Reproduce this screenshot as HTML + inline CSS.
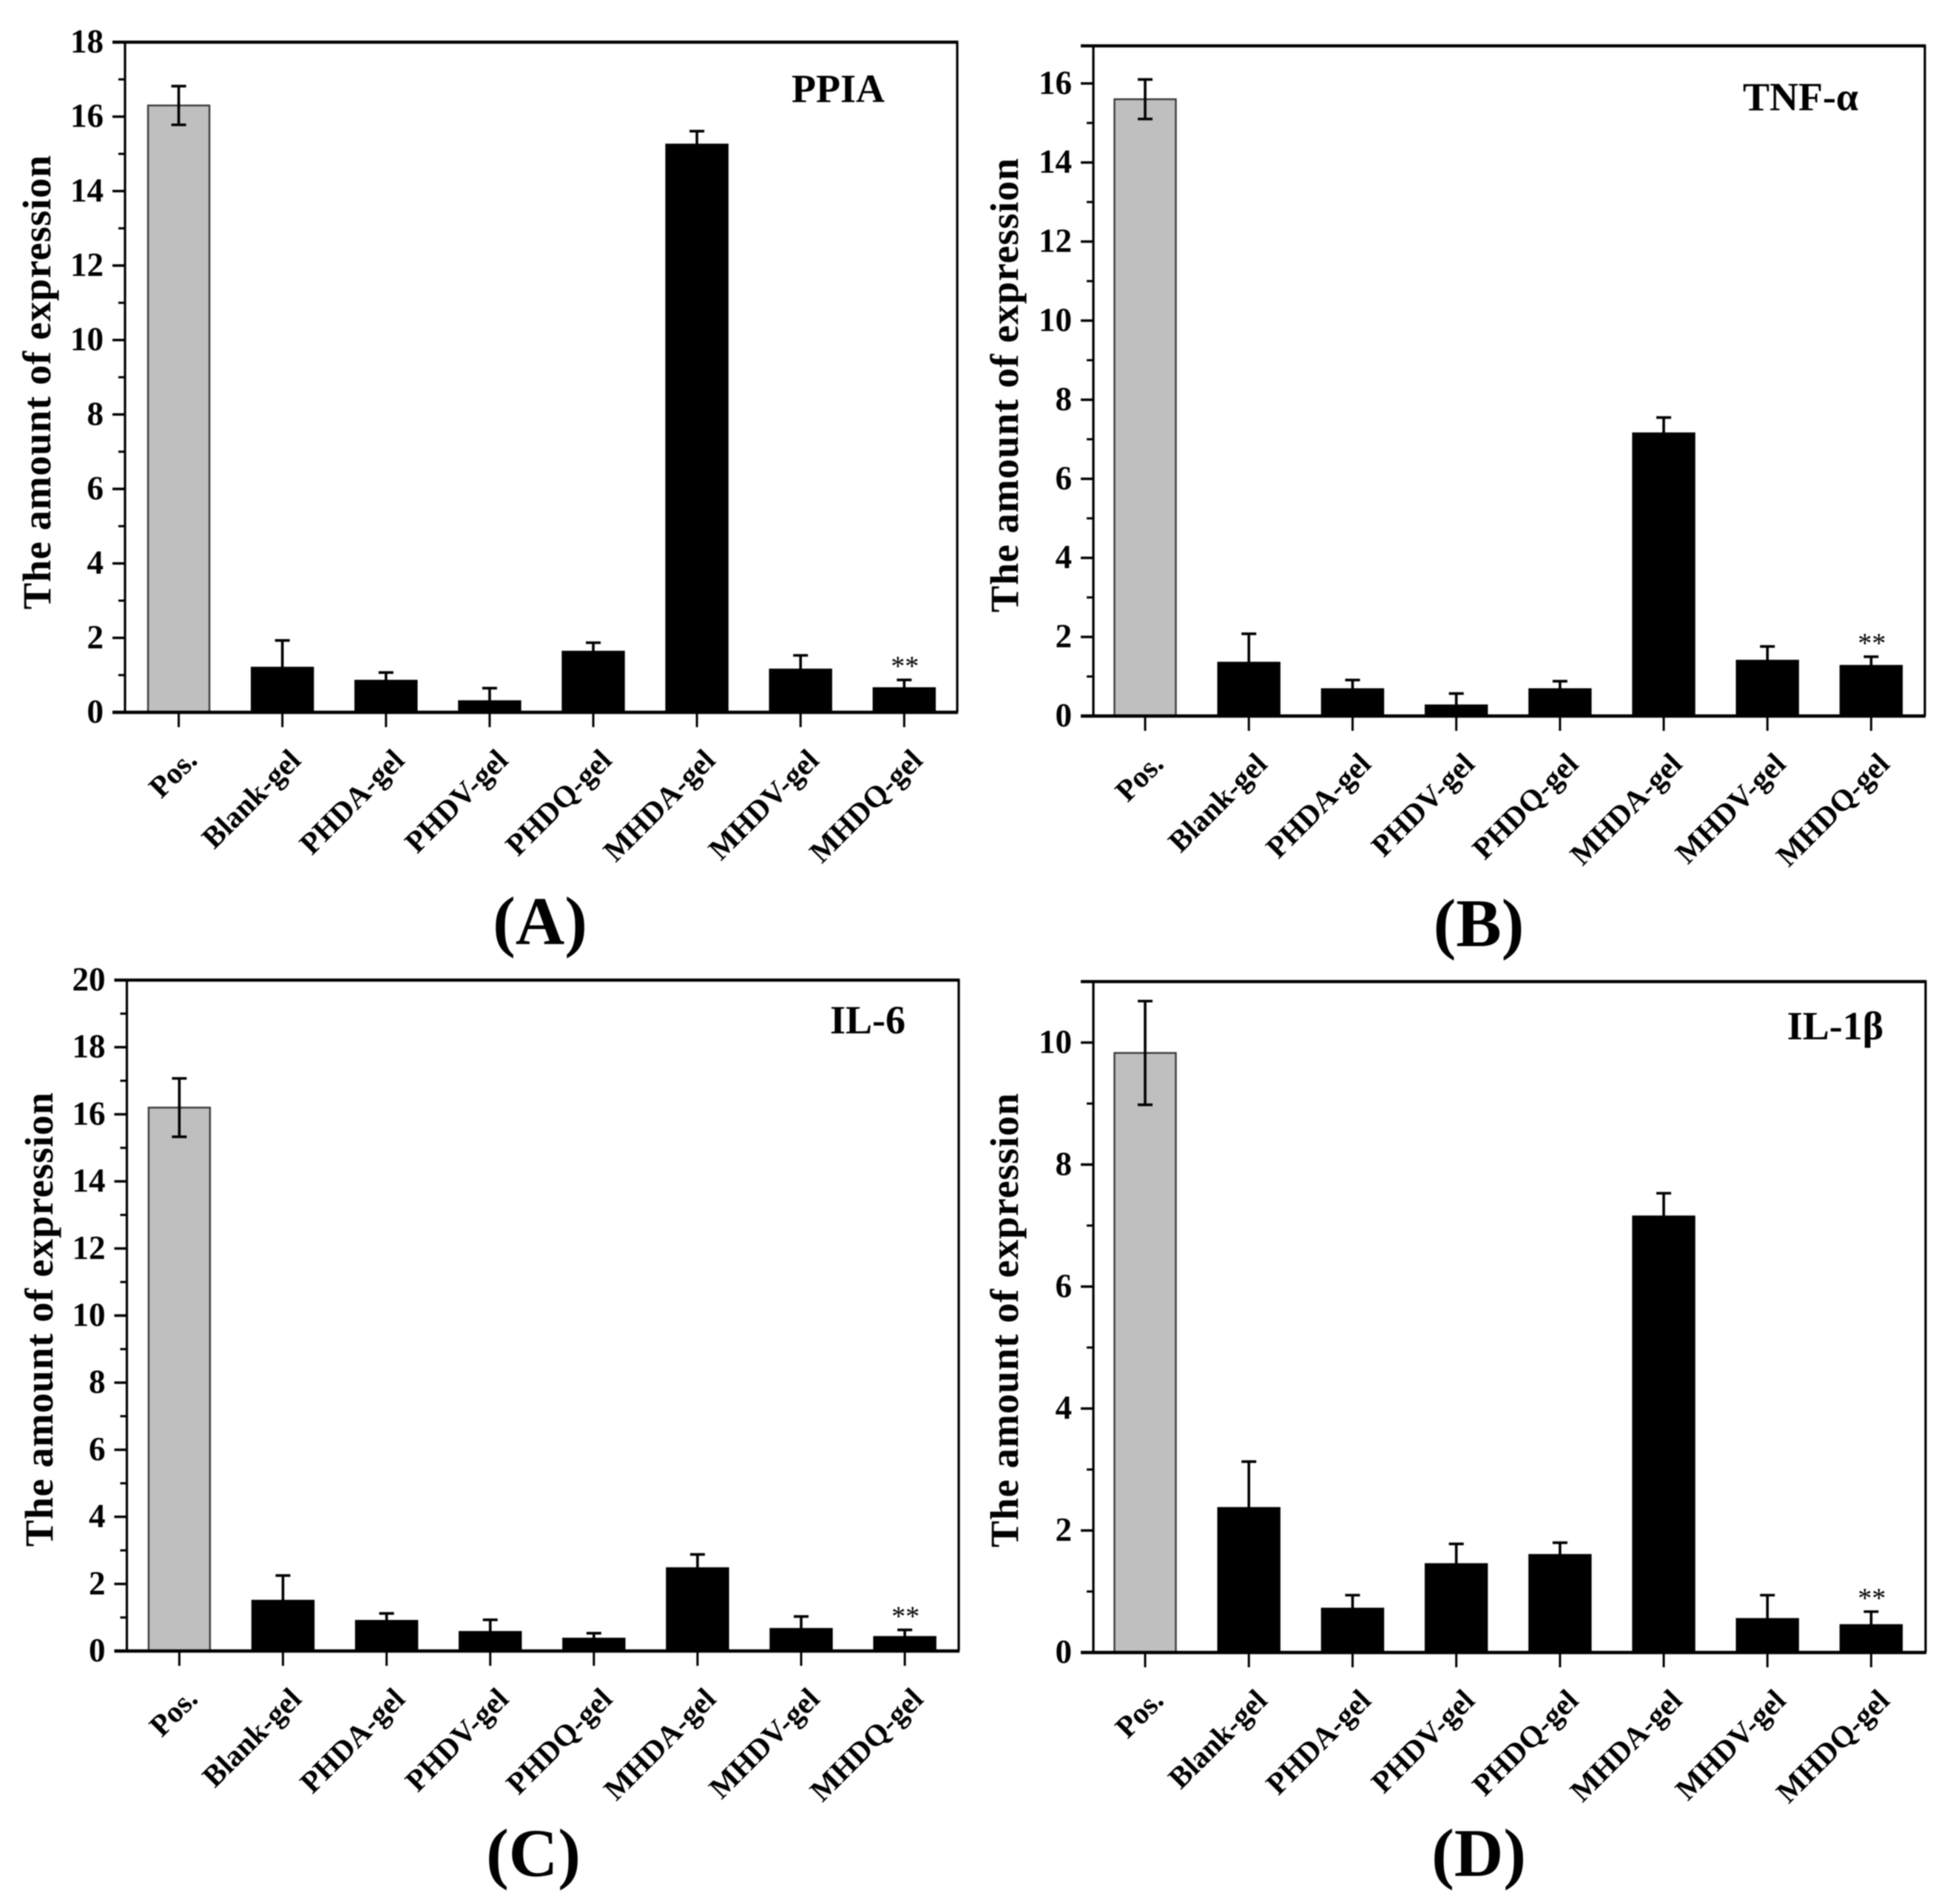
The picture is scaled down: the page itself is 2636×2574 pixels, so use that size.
<!DOCTYPE html>
<html lang="en">
<head>
<meta charset="utf-8">
<title>Expression bar charts</title>
<style>
html,body{margin:0;padding:0;background:#fff;width:2636px;height:2574px;overflow:hidden}
svg{display:block;filter:blur(0.9px)}
text{font-family:"Liberation Serif","DejaVu Serif",serif;fill:#000}
</style>
</head>
<body>
<svg id="figure" xmlns="http://www.w3.org/2000/svg" width="2636" height="2574" viewBox="0 0 2636 2574"></svg>
<script>
const categories = ["Pos.", "Blank-gel", "PHDA-gel", "PHDV-gel", "PHDQ-gel", "MHDA-gel", "MHDV-gel", "MHDQ-gel"];

const ppiaValues = [16.3, 1.2, 0.85, 0.3, 1.63, 15.25, 1.15, 0.65];
const ppiaErrors = [0.52, 0.73, 0.22, 0.35, 0.24, 0.36, 0.38, 0.22];
const ppiaTicks = [0, 2, 4, 6, 8, 10, 12, 14, 16, 18];

const tnfValues = [15.6, 1.35, 0.68, 0.27, 0.68, 7.15, 1.4, 1.27];
const tnfErrors = [0.5, 0.73, 0.23, 0.3, 0.2, 0.4, 0.36, 0.23];
const tnfTicks = [0, 2, 4, 6, 8, 10, 12, 14, 16];

const il6Values = [16.2, 1.5, 0.9, 0.57, 0.37, 2.47, 0.66, 0.42];
const il6Errors = [0.87, 0.75, 0.22, 0.36, 0.16, 0.41, 0.37, 0.21];
const il6Ticks = [0, 2, 4, 6, 8, 10, 12, 14, 16, 18, 20];

const il1bValues = [9.83, 2.37, 0.72, 1.45, 1.6, 7.15, 0.55, 0.45];
const il1bErrors = [0.85, 0.76, 0.22, 0.33, 0.2, 0.38, 0.39, 0.22];
const il1bTicks = [0, 2, 4, 6, 8, 10];

const panels = [
  {id:"ppia", gene:"PPIA", letter:"(A)", values:ppiaValues, errors:ppiaErrors, ticks:ppiaTicks, yMax:18,
   left:169, right:1294, top:57, bottom:963, first:241.6, step:140.1,
   titleX:68, titleY:517, geneX:1133, geneY:138, letterX:730, letterY:1276},
  {id:"tnf", gene:"TNF-α", letter:"(B)", values:tnfValues, errors:tnfErrors, ticks:tnfTicks, yMax:16.95,
   left:1478, right:2602, top:62, bottom:968, first:1548, step:140.2,
   titleX:1376, titleY:521, geneX:2434, geneY:149, letterX:1999, letterY:1279},
  {id:"il6", gene:"IL-6", letter:"(C)", values:il6Values, errors:il6Errors, ticks:il6Ticks, yMax:20,
   left:171.5, right:1296, top:1325, bottom:2232, first:242.4, step:140.1,
   titleX:71, titleY:1784, geneX:1173, geneY:1397, letterX:721, letterY:2536},
  {id:"il1b", gene:"IL-1β", letter:"(D)", values:il1bValues, errors:il1bErrors, ticks:il1bTicks, yMax:11,
   left:1478, right:2603, top:1327, bottom:2234, first:1548, step:140.2,
   titleX:1376, titleY:1785, geneX:2481, geneY:1405, letterX:1999, letterY:2536}
];

const NS = "http://www.w3.org/2000/svg";
const figure = document.getElementById("figure");

function make(parent, tag, attrs, content) {
  const el = document.createElementNS(NS, tag);
  for (const k in attrs) el.setAttribute(k, attrs[k]);
  if (content !== undefined) el.textContent = content;
  parent.appendChild(el);
  return el;
}

function drawPanel(p) {
  const yScale = v => p.bottom - (v / p.yMax) * (p.bottom - p.top);
  const xScale = i => p.first + i * p.step;
  const barWidth = 83;

  const g = make(figure, "g", {});
  
  

  // bars
  p.values.forEach((v, i) => {
    const isPos = i === 0;
    const bar = make(g, "rect", {
      x: xScale(i) - barWidth / 2, y: yScale(v), width: barWidth, height: p.bottom - yScale(v),
      fill: isPos ? "#bfbfbf" : "#000", stroke: isPos ? "#3a3a3a" : "#000", "stroke-width": 2.4
    });
    
    
  });

  // error bars
  p.values.forEach((v, i) => {
    const hi = yScale(v + p.errors[i]);
    const lo = yScale(Math.max(0, v - p.errors[i]));
    const cx = xScale(i);
    const eb = make(g, "path", {
      d: "M" + cx + " " + hi + "V" + lo + "M" + (cx - 10) + " " + hi + "H" + (cx + 10) + "M" + (cx - 10) + " " + lo + "H" + (cx + 10),
      fill: "none", stroke: "#000", "stroke-width": 3.6
    });
    
    
  });

  // frame
  const frame = make(g, "path", {
    d: "M" + p.left + " " + p.top + "H" + p.right + "V" + p.bottom + "M" + p.left + " " + p.top + "V" + p.bottom,
    fill: "none", stroke: "#000", "stroke-width": 3.2
  });
  
  

  const xAxis = make(g, "line", {x1: p.left - 17, x2: p.right + 1, y1: p.bottom, y2: p.bottom, stroke: "#000", "stroke-width": 4.6});
  
  

  const topLine = make(g, "line", {x1: p.left - 17, x2: p.right + 1, y1: p.top, y2: p.top, stroke: "#000", "stroke-width": 4.2});
  
  

  // y ticks + labels
  p.ticks.forEach(t => {
    const y = yScale(t);
    const tick = make(g, "line", {x1: p.left - 17, x2: p.left, y1: y, y2: y, stroke: "#000", "stroke-width": 3.4});
    
    
    const lab = make(g, "text", {x: p.left - 29, y: y + 14, "text-anchor": "end", "font-size": 45, "font-weight": "bold"}, String(t));
    
    
    const m = t + 1;
    if (m < p.yMax) {
      const ym = yScale(m);
      const minor = make(g, "line", {x1: p.left - 9, x2: p.left, y1: ym, y2: ym, stroke: "#000", "stroke-width": 3});
      
      
    }
  });

  // x ticks + labels
  categories.forEach((c, i) => {
    const x = xScale(i);
    const tick = make(g, "line", {x1: x, x2: x, y1: p.bottom, y2: p.bottom + 20, stroke: "#000", "stroke-width": 3});
    
    
    const lx = x + 27, ly = p.bottom + 67;
    const lab = make(g, "text", {
      x: lx, y: ly, "text-anchor": "end", "font-size": 41, "font-weight": "bold",
      transform: "rotate(-45 " + lx + " " + ly + ")"
    }, c);
    
    
  });

  // significance marker on last bar
  const last = p.values.length - 1;
  const star = make(g, "text", {
    x: xScale(last) + 1, y: yScale(p.values[last] + p.errors[last]) - 6, "text-anchor": "middle",
    "font-size": 38, fill: "#222"
  }, "**");
  
  

  // y-axis title
  const title = make(g, "text", {
    x: p.titleX, y: p.titleY, "text-anchor": "middle", "font-size": 54, "font-weight": "bold",
    textLength: 614, lengthAdjust: "spacing",
    transform: "rotate(-90 " + p.titleX + " " + p.titleY + ")"
  }, "The amount of expression");
  
  

  const gene = make(g, "text", {x: p.geneX, y: p.geneY, "text-anchor": "middle", "font-size": 54, "font-weight": "bold"}, p.gene);
  
  

  const letter = make(g, "text", {x: p.letterX, y: p.letterY, "text-anchor": "middle", "font-size": 92, "font-weight": "bold"}, p.letter);
  
  
}

panels.forEach(drawPanel);
</script>
</body>
</html>
